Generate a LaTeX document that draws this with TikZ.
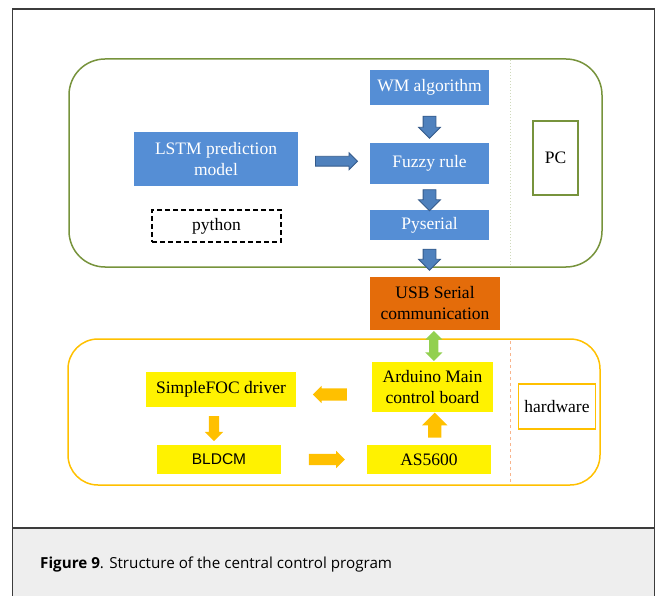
\documentclass[tikz,border=0pt]{standalone}
\usepackage{fontspec}
\setmainfont{Liberation Serif}
\newfontfamily\capfont{Open Sans}
\newfontfamily\arialfont{Liberation Sans}
\usetikzlibrary{shapes, shapes.geometric, shapes.arrows, calc}

\definecolor{boxblue}{RGB}{85,142,213}
\definecolor{arrblue}{RGB}{79,129,189}
\definecolor{arredge}{RGB}{52,90,138}
\definecolor{pcgreen}{RGB}{119,147,60}
\definecolor{hwamber}{RGB}{255,192,0}
\definecolor{usborange}{RGB}{228,108,10}
\definecolor{linkgreen}{RGB}{146,208,80}
\definecolor{capgray}{RGB}{238,238,238}
\definecolor{framegray}{RGB}{60,60,60}
\definecolor{sepsalmon}{RGB}{248,180,140}

\begin{document}
\begin{tikzpicture}[x=1pt, y=-1pt,
bluebox/.style={fill=boxblue, text=white, inner sep=0pt},
yellowbox/.style={fill=yellow, text=black, inner sep=0pt},
bluearrow/.style={single arrow, draw=arredge, fill=arrblue, line width=0.8pt},
amberarrow/.style={single arrow, fill=hwamber},
arrowsize/.style n args={3}{minimum height=#1, minimum width=#2,
  inner sep=#3/2, single arrow head extend=(#2-#3)/2}]
\fontsize{17.5}{21}\selectfont
\useasboundingbox (0,0) rectangle (656,596);

% frame and caption
\fill[capgray] (12.5,528) rectangle (654.5,596);
\draw[framegray, line width=1.5] (12.5,596) -- (12.5,9) -- (654.5,9) -- (654.5,596);
\draw[framegray, line width=1.5] (12.5,528) -- (654.5,528);
\node[anchor=west, inner sep=0pt, font=\capfont\fontsize{15.2}{18}\selectfont] (caption) at (40,565)
{\textbf{Figure 9}. Structure of the central control program};

% PC part
\draw[pcgreen, line width=1.5, rounded corners=36] (69,59) rectangle (602,267);
\draw[pcgreen!35, dotted, line width=1] (510,60) -- (510,266);

\node[bluebox, minimum width=119, minimum height=35] (wm) at (429.5,87.5) {WM algorithm};
\node[bluebox, minimum width=119, minimum height=41] (fuzzy) at (429.5,163.5) {Fuzzy rule};
\node[bluebox, minimum width=119, minimum height=30] (pyserial) at (429.5,225) {Pyserial};
\node[bluebox, minimum width=164, minimum height=54, align=center] (lstm) at (216,159)
{LSTM prediction\\model};
\node[draw=black, dashed, dash pattern=on 5pt off 3pt, line width=1.5,
minimum width=129, minimum height=32] (python) at (216.5,226) {python};
\node[draw=pcgreen, line width=1.5, minimum width=45, minimum height=74] (pc) at (555.5,158) {PC};

\node[bluearrow, arrowsize={42}{16}{9}] (a1) at ($(lstm.east)!0.5!(fuzzy.west)$) {};
\node[bluearrow, arrowsize={22}{21}{12}, rotate=-90] (a2) at ($(wm.south)!0.5!(fuzzy.north)$) {};
\node[bluearrow, arrowsize={21}{21}{12}, rotate=-90] (a3) at ($(fuzzy.south)!0.5!(pyserial.north)$) {};

% serial link
\node[fill=usborange, text=black, inner sep=0pt, minimum width=130, minimum height=53,
align=center] (usb) at (435,303.5) {USB Serial\\communication};
\node[bluearrow, arrowsize={21}{21}{12}, rotate=-90] (a4) at (429.5,256.5) {};

% hardware part
\draw[hwamber, line width=1.5, rounded corners=30] (68,339) rectangle (600,485);
\draw[sepsalmon, dashed, line width=0.8] (510,341) -- (510,483);

\node[yellowbox, minimum width=121, minimum height=50, align=center] (arduino) at (432.5,387)
{Arduino Main\\control board};
\node[yellowbox, minimum width=150, minimum height=35] (simplefoc) at (221,389.5) {SimpleFOC driver};
\node[yellowbox, minimum width=124, minimum height=29, font=\arialfont\fontsize{15.5}{18}\selectfont]
(bldcm) at (219,459.5) {BLDCM};
\node[yellowbox, minimum width=124, minimum height=29] (as5600) at (429,459.5) {AS5600};
\node[draw=hwamber, line width=1.5, minimum width=76, minimum height=45] (hw) at (557,406.5) {hardware};

\node[double arrow, fill=linkgreen, minimum height=30, minimum width=17, inner sep=4.5,
double arrow head extend=4, rotate=90] (a5) at ($(usb.south)!0.5!(arduino.north)$) {};
\node[amberarrow, arrowsize={34}{17}{12}, rotate=180] (a6) at (333,394.5) {};
\node[amberarrow, arrowsize={25}{18}{10}, rotate=-90] (a7) at ($(simplefoc.south)!0.5!(bldcm.north)+(-6,0)$) {};
\node[amberarrow, arrowsize={36}{17}{11}] (a8) at ($(bldcm.east)!0.5!(as5600.west)$) {};
\node[amberarrow, arrowsize={25}{25}{13}, rotate=90] (a9) at ($(as5600.north)!0.5!(arduino.south)+(4,0)$) {};
\end{tikzpicture}
\end{document}
